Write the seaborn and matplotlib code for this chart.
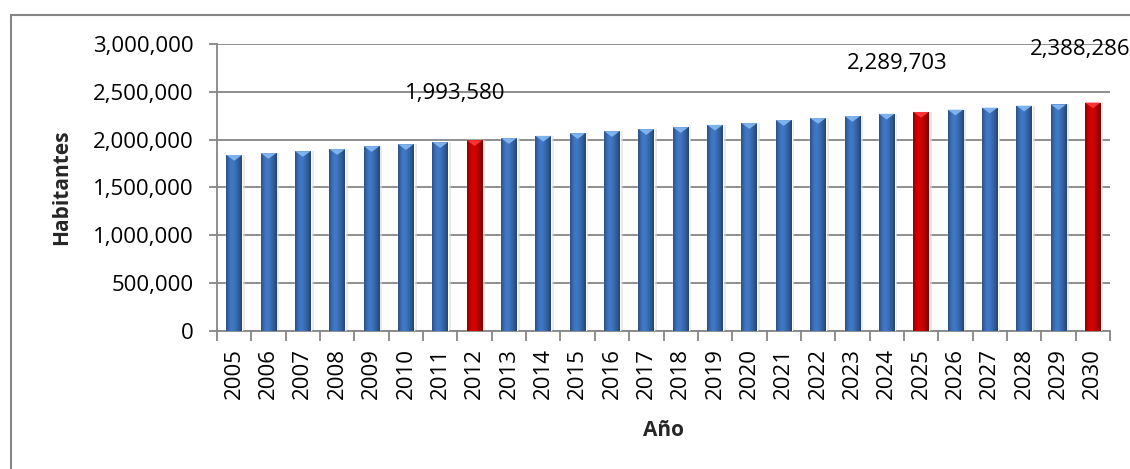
import numpy as np
import pandas as pd
import matplotlib
matplotlib.use("Agg")
import matplotlib.pyplot as plt
import matplotlib.colors as mcolors
from matplotlib.patches import Rectangle, Polygon
from matplotlib.ticker import FuncFormatter, MultipleLocator
import seaborn as sns

years = [str(y) for y in range(2005, 2031)]
population = [
    1840000, 1860000, 1880000, 1901000, 1932000, 1953000, 1974000, 1993580,
    2016000, 2040000, 2068000, 2089000, 2110000, 2131000, 2155000, 2173000,
    2205000, 2226000, 2247000, 2271000, 2289703, 2314000, 2335000, 2356000,
    2369000, 2388286,
]
highlighted = ["2012", "2025", "2030"]

BLUE = "#3b70b9"
RED = "#c80000"
BLUE_TOP = "#86baf2"
RED_TOP = "#ff3a3a"
GRID = "#868686"

sns.set_theme(style="white")
plt.rcParams["font.family"] = ["Open Sans", "DejaVu Sans"]

df = pd.DataFrame({"year": years, "pop": population})
palette = {y: (RED if y in highlighted else BLUE) for y in years}

fig = plt.figure(figsize=(11.3, 4.69), dpi=100)
ax = fig.add_axes([217 / 1130, 1 - 331 / 469, (1110 - 217) / 1130, (331 - 44) / 469])

sns.barplot(data=df, x="year", y="pop", hue="year", palette=palette,
            legend=False, width=0.46, ax=ax, zorder=3, saturation=1)

ax.set_ylim(0, 3000000)
ax.set_xlim(-0.5, len(years) - 0.5)
ax.yaxis.set_major_locator(MultipleLocator(500000))
ax.yaxis.set_major_formatter(FuncFormatter(lambda v, p: f"{int(v):,}"))
ax.grid(axis="y", color=GRID, linewidth=1.3, zorder=0)
ax.set_axisbelow(True)

for side in ("top", "right"):
    ax.spines[side].set_visible(False)
for side in ("left", "bottom"):
    ax.spines[side].set_color(GRID)
    ax.spines[side].set_linewidth(1.3)

# category ticks sit between bars, labels sit under bars
ax.set_xticks(np.arange(len(years)))
ax.set_xticklabels(years, rotation=90, fontsize=16)
ax.set_xticks(np.arange(len(years) + 1) - 0.5, minor=True)
ax.tick_params(axis="x", which="major", length=0, pad=12, colors="black")
ax.tick_params(axis="x", which="minor", length=7, width=1.3, color=GRID,
               direction="out", bottom=True)
ax.tick_params(axis="y", length=6, width=1.3, color=GRID, direction="out",
               labelsize=16, left=True, pad=11)
for t in ax.get_yticklabels():
    t.set_color("black")

ax.set_xlabel("Año", fontsize=15, fontweight="bold", labelpad=15)
ax.set_ylabel("Habitantes", fontsize=15, fontweight="bold", labelpad=15)

# cylinder-like shading and bevelled tops on every bar
profile = np.array([0.72, 0.85, 0.98, 1.06, 1.08, 1.05, 0.98, 0.9, 0.82, 0.72, 0.6])
for patch, year in zip(ax.patches, years):
    x0 = patch.get_x()
    w = patch.get_width()
    h = patch.get_height()
    base = np.array(mcolors.to_rgb(palette[year]))
    xs = np.linspace(0, 1, 64)
    fac = np.interp(xs, np.linspace(0, 1, len(profile)), profile)
    img = np.clip(base[None, :] * fac[:, None], 0, 1)[None, :, :]
    # soft shadow on the right
    ax.add_patch(Rectangle((x0 + w, 0), 0.08, h, color="#d9d9d9", alpha=0.6,
                           zorder=2, linewidth=0))
    im = ax.imshow(img, extent=(x0, x0 + w, 0, h), aspect="auto",
                   zorder=4, interpolation="bilinear")
    im.set_clip_path(patch)
    top_col = RED_TOP if year in highlighted else BLUE_TOP
    depth = 60000
    ax.add_patch(Polygon([(x0, h), (x0 + w, h), (x0 + w / 2, h - depth)],
                         closed=True, facecolor=top_col, edgecolor="none",
                         alpha=0.9, zorder=5))

ax.set_xlim(-0.5, len(years) - 0.5)
ax.set_ylim(0, 3000000)

# value labels on the highlighted years
offsets = {"2012": (-14, 34), "2025": (-17, 35), "2030": (-9, 38)}
for year in highlighted:
    i = years.index(year)
    val = population[i]
    ax.annotate(f"{val:,}", xy=(i, val), xytext=offsets[year],
                textcoords="offset points", ha="center", va="center",
                fontsize=16, color="black", annotation_clip=False, zorder=6)

# outer chart frame
fig.patches.append(Rectangle((11 / 1130, -0.2), 1.5, 1.2 - 15 / 469,
                             transform=fig.transFigure, fill=False,
                             edgecolor=GRID, linewidth=1.5))

fig.savefig("out.png", dpi=100)
